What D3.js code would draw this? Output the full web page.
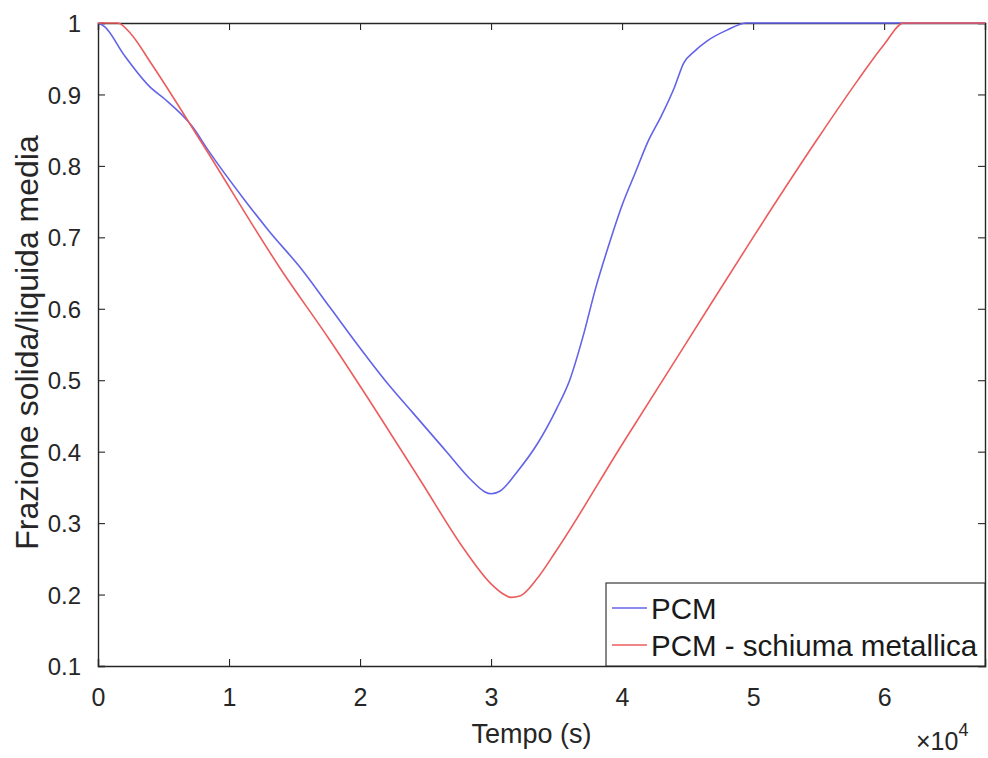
<!DOCTYPE html>
<html lang="it">
<head>
<meta charset="UTF-8">
<script src="https://d3js.org/d3.v7.min.js"></script>
<style>
  body { margin: 0; background: #fff; font-family: "Liberation Sans", Arial, sans-serif; }
  svg { display: block; }
</style>
</head>
<body>
<div id="chart"></div>
<script>
// tempo in unità di 1e4 s
const pcmT = [0, 0.05, 0.2, 0.4, 0.5, 0.72, 0.84, 1.12, 1.3, 1.56, 1.77, 2.0, 2.19, 2.4, 2.66, 2.85, 2.95, 3.0, 3.07, 3.2, 3.35, 3.5, 3.6, 3.7, 3.8, 3.9, 4.0, 4.1, 4.2, 4.3, 4.4, 4.47, 4.55, 4.65, 4.8, 4.95, 5.2, 6.77];
const pcmV = [1, 0.995, 0.955, 0.91, 0.895, 0.855, 0.822, 0.752, 0.71, 0.654, 0.602, 0.545, 0.50, 0.455, 0.40, 0.36, 0.344, 0.341, 0.345, 0.372, 0.41, 0.46, 0.50, 0.56, 0.63, 0.69, 0.745, 0.79, 0.835, 0.87, 0.91, 0.944, 0.96, 0.975, 0.99, 1.0, 1.0, 1.0];

const foamT = [0, 0.15, 0.25, 0.4, 0.8, 1.4, 1.77, 2.0, 2.46, 2.8, 3.0, 3.1, 3.15, 3.22, 3.35, 3.5, 4.0, 4.5, 5.0, 5.5, 5.8, 6.0, 6.15, 6.77];
const foamV = [1, 1, 0.985, 0.945, 0.83, 0.654, 0.556, 0.492, 0.36, 0.262, 0.215, 0.2, 0.196, 0.198, 0.222, 0.262, 0.41, 0.555, 0.70, 0.84, 0.92, 0.97, 1.0, 1.0];

const xTicks = [0, 1, 2, 3, 4, 5, 6];
const yTicks = [0.1, 0.2, 0.3, 0.4, 0.5, 0.6, 0.7, 0.8, 0.9, 1];
const seriesNames = ["PCM", "PCM - schiuma metallica"];
const seriesColors = ["#6363ea", "#ec5c5c"];

const W = 988, H = 758;
const m = { left: 98, right: 985, top: 23, bottom: 666 };

const svg = d3.select("#chart").append("svg")
    .attr("width", W).attr("height", H);

const x = d3.scaleLinear().domain([0, 6.77]).range([m.left, m.right]);
const y = d3.scaleLinear().domain([0.1, 1]).range([m.bottom, m.top]);

const axisColor = "#262626";

// assi con tacche interne (stile MATLAB)
const gx = svg.append("g")
    .attr("transform", `translate(0,${m.bottom})`)
    .call(d3.axisBottom(x).tickValues(xTicks).tickSize(-7).tickPadding(22).tickFormat(d3.format("d")));
const gxTop = svg.append("g")
    .attr("transform", `translate(0,${m.top})`)
    .call(d3.axisTop(x).tickValues(xTicks).tickSize(-7).tickFormat(""));
const gy = svg.append("g")
    .attr("transform", `translate(${m.left},0)`)
    .call(d3.axisLeft(y).tickValues(yTicks).tickSize(-7).tickPadding(17).tickFormat(d => d === 1 ? "1" : d3.format(".1f")(d)));
const gyRight = svg.append("g")
    .attr("transform", `translate(${m.right},0)`)
    .call(d3.axisRight(y).tickValues(yTicks).tickSize(-7).tickFormat(""));

[gx, gxTop, gy, gyRight].forEach(g => {
  g.select(".domain").attr("stroke", axisColor).attr("stroke-width", 1.4);
  g.selectAll(".tick line").attr("stroke", axisColor).attr("stroke-width", 1.1);
  g.selectAll(".tick text").attr("font-family", "Liberation Sans, Arial, sans-serif").attr("fill", axisColor);
});
gx.selectAll(".tick text").attr("font-size", 25);
gy.selectAll(".tick text").attr("font-size", 24).attr("dy", "0.36em");

// curve
const line = d3.line()
    .x(d => x(d[0]))
    .y(d => y(d[1]))
    .curve(d3.curveMonotoneX);

const series = [d3.zip(pcmT, pcmV), d3.zip(foamT, foamV)];
series.forEach((pts, i) => {
  svg.append("path")
      .datum(pts)
      .attr("fill", "none")
      .attr("stroke", seriesColors[i])
      .attr("stroke-width", 1.6)
      .attr("d", line);
});

// etichette assi
svg.append("text")
    .attr("x", (m.left + m.right) / 2 - 10)
    .attr("y", 743)
    .attr("text-anchor", "middle")
    .attr("font-size", 27)
    .attr("fill", axisColor)
    .text("Tempo (s)");

svg.append("text")
    .attr("transform", `translate(38,${(m.top + m.bottom) / 2 - 2}) rotate(-90)`)
    .attr("text-anchor", "middle")
    .attr("font-size", 32)
    .attr("fill", axisColor)
    .text("Frazione solida/liquida media");

// moltiplicatore ×10^4
const mult = svg.append("text")
    .attr("x", 916)
    .attr("y", 750)
    .attr("font-size", 25)
    .attr("fill", axisColor);
mult.append("tspan").text("×10");
mult.append("tspan").attr("dy", -14).attr("font-size", 18).text("4");

// legenda
const lg = svg.append("g");
const lgX = 606, lgY = 583;
lg.append("rect")
    .attr("x", lgX).attr("y", lgY)
    .attr("width", m.right - lgX).attr("height", m.bottom - lgY)
    .attr("fill", "#fff")
    .attr("stroke", axisColor).attr("stroke-width", 1.1);
seriesNames.forEach((name, i) => {
  const ly = 608 + i * 37;
  lg.append("line")
      .attr("x1", 612).attr("x2", 647)
      .attr("y1", ly).attr("y2", ly)
      .attr("stroke", seriesColors[i]).attr("stroke-width", 1.6);
  lg.append("text")
      .attr("x", 651).attr("y", ly)
      .attr("dy", "0.36em")
      .attr("font-size", 29.5)
      .attr("fill", "#1a1a1a")
      .text(name);
});
</script>
</body>
</html>
